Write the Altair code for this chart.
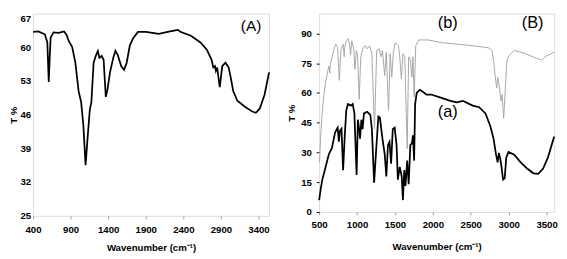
import altair as alt
import pandas as pd

# ---- Panel A spectrum ----
A_wn = [400, 470, 557, 590, 609, 622, 634, 673, 740, 813, 848, 878, 920, 963, 1006, 1040, 1070, 1099,
        1125, 1155, 1176, 1206, 1232, 1262, 1283, 1313, 1339, 1368, 1390, 1424, 1467, 1496, 1527,
        1573, 1611, 1646, 1688, 1732, 1796, 1902, 2072, 2222, 2328, 2360, 2500, 2628, 2712, 2776,
        2798, 2820, 2833, 2850, 2884, 2917, 2960, 3003, 3033, 3063, 3118, 3224, 3310, 3365, 3417,
        3481, 3540]
A_t = [63.2, 63.3, 62.7, 61.0, 52.8, 58.0, 62.0, 63.1, 63.0, 63.3, 62.5, 61.2, 60.1, 56.8, 50.9, 48.6, 43.7, 35.5,
       41.0, 47.0, 48.6, 56.8, 58.1, 59.2, 57.8, 58.2, 57.4, 49.7, 51.2, 54.8, 57.8, 59.3, 58.4,
       56.1, 55.3, 56.8, 60.4, 61.9, 63.2, 63.2, 62.8, 63.3, 63.6, 63.2, 62.4, 61.0, 59.5, 57.4,
       55.8, 56.1, 55.1, 55.8, 51.7, 56.1, 56.8, 55.8, 53.5, 50.9, 48.9, 47.6, 46.7, 46.4, 47.3,
       50.2, 54.8]

# ---- Panel B, spectrum (a) ----
Ba_wn = [500, 521, 542, 585, 627, 668, 711, 744, 760, 775, 795, 816, 838, 858, 880, 922, 943, 965, 994,
         1011, 1028, 1040, 1057, 1073, 1091, 1133, 1175, 1196, 1225, 1251, 1281, 1301, 1335, 1365, 1386,
         1408, 1428, 1449, 1471, 1496, 1521, 1538, 1563, 1589, 1605, 1623, 1639, 1661, 1681, 1703, 1724,
         1737, 1753, 1766, 1787, 1829, 1871, 1914, 1977, 2104, 2231, 2314, 2399, 2525, 2610, 2694, 2757,
         2800, 2833, 2854, 2871, 2889, 2905, 2926, 2947, 2968, 2997, 3073, 3158, 3243, 3327, 3390, 3454,
         3517, 3600]
Ba_t = [6.0, 11.6, 16.3, 22.7, 29.0, 32.2, 40.1, 42.5, 35.4, 41.0, 42.0, 21.0, 38.6, 51.2, 54.4, 53.6, 54.4, 49.7, 18.7,
        46.5, 41.7, 37.0, 46.5, 41.7, 49.7, 50.5, 48.9, 41.7, 14.8, 30.6, 48.1, 47.6, 37.0, 29.0, 17.9,
        33.8, 35.4, 24.3, 41.7, 42.5, 33.8, 16.3, 22.7, 17.9, 6.0, 21.1, 13.1, 25.9, 14.0, 33.8, 34.6,
        38.6, 25.9, 54.4, 60.0, 61.6, 60.5, 59.2, 59.2, 57.6, 56.0, 55.2, 56.0, 53.6, 52.8, 49.7, 43.3,
        37.0, 29.0, 25.0, 29.8, 26.7, 22.7, 16.3, 17.0, 27.4, 30.3, 28.9, 25.0, 21.9, 19.5, 19.2, 21.9,
        27.4, 38.0]

# ---- Panel B, spectrum (b) ----
Bb_wn = [505, 520, 540, 560, 585, 627, 640, 648, 690, 719, 744, 766, 787, 816, 830, 838, 858, 880, 901,
         914, 930, 956, 972, 990, 1006, 1028, 1049, 1082, 1112, 1133, 1167, 1196, 1230, 1259, 1294, 1314,
         1335, 1365, 1386, 1415, 1437, 1458, 1479, 1504, 1546, 1563, 1585, 1605, 1630, 1661, 1681, 1703,
         1724, 1737, 1753, 1774, 1816, 1934, 2104, 2525, 2737, 2778, 2800, 2821, 2842, 2854, 2875, 2896,
         2913, 2934, 2956, 2977, 3010, 3073, 3200, 3369, 3433, 3496, 3600]
Bb_t = [25.0, 38.0, 50.0, 58.0, 65.5, 73.5, 70.0, 74.3, 81.4, 84.6, 83.0, 66.3, 81.4, 84.6, 78.2, 83.0, 86.2, 87.4, 84.6,
        79.0, 86.2, 82.2, 71.9, 81.4, 79.8, 56.8, 78.2, 83.0, 83.8, 82.2, 83.8, 79.8, 42.0, 81.4, 82.2, 78.2,
        81.4, 68.7, 80.6, 51.2, 79.8, 67.9, 80.6, 85.4, 83.8, 78.2, 67.1, 79.8, 78.2, 32.0, 78.2, 76.6,
        67.9, 78.2, 58.0, 83.8, 86.7, 86.7, 85.4, 83.8, 82.7, 81.4, 76.6, 68.7, 62.4, 67.9, 63.9, 56.0,
        59.2, 47.3, 62.4, 76.6, 79.0, 81.4, 80.1, 77.4, 76.6, 78.6, 80.5]

A_xticks = [400, 900, 1400, 1900, 2400, 2900, 3400]
A_yticks = [25, 32, 39, 46, 53, 60, 67]
B_xticks = [500, 1000, 1500, 2000, 2500, 3000, 3500]
B_yticks = [0, 15, 30, 45, 60, 75, 90]

A_labels = ["(A)"]
A_lab_x = [3300]
A_lab_y = [64.4]
B_labels = ["(b)", "(B)", "(a)"]
B_lab_x = [2196, 3316, 2196]
B_lab_y = [95.0, 95.0, 50.5]

FONT = "Liberation Sans"
XTITLE = "Wavenumber (cm\u207b\u00b9)"

dfA = pd.DataFrame({"wn": A_wn, "t": A_t})
dfBa = pd.DataFrame({"wn": Ba_wn, "t": Ba_t})
dfBb = pd.DataFrame({"wn": Bb_wn, "t": Bb_t})
dfAl = pd.DataFrame({"wn": A_lab_x, "t": A_lab_y, "lab": A_labels})
dfBl = pd.DataFrame({"wn": B_lab_x, "t": B_lab_y, "lab": B_labels})

def xaxis(vals, lpad, tpad):
    return alt.Axis(values=vals, tickCount=len(vals) + 3, format="d", title=XTITLE, grid=False,
                    domain=False, tickSize=3, tickColor="#999999", labelPadding=lpad, labelFont=FONT,
                    labelFontSize=10, labelFontWeight="bold", labelColor="black", titleFont=FONT,
                    titleFontSize=10, titleFontWeight="bold", titleColor="black", titlePadding=tpad,
                    labelFlush=False, labelOverlap=False)

def yaxis(vals, **kw):
    return alt.Axis(values=vals, tickCount=len(vals) + 3, format="d", title="T %", grid=False,
                    domain=False, labelFont=FONT, labelFontSize=10, labelFontWeight="bold",
                    labelColor="black", titleFont=FONT, titleFontSize=10, titleFontWeight="bold",
                    titleColor="black", labelFlush=False, labelOverlap=False, **kw)

xA = alt.X("wn:Q", scale=alt.Scale(domain=[400, 3540], nice=False, zero=False), axis=xaxis(A_xticks, 6, 9))
yA = alt.Y("t:Q", scale=alt.Scale(domain=[25, 67], nice=False, zero=False),
           axis=yaxis(A_yticks, ticks=False, labelPadding=2.5, titleX=-15,
                      labelBaseline={"condition": {"test": "datum.value >= 67", "value": "top"},
                                     "value": "middle"}))

lineA = alt.Chart(dfA).mark_line(color="black", strokeWidth=1.8).encode(x=xA, y=yA)
textA = alt.Chart(dfAl).mark_text(font=FONT, fontSize=16, color="black").encode(
    x=alt.X("wn:Q"), y=alt.Y("t:Q"), text="lab:N")
panelA = alt.layer(lineA, textA).properties(width=245, height=210)

xB = alt.X("wn:Q", scale=alt.Scale(domain=[500, 3600], nice=False, zero=False), axis=xaxis(B_xticks, 5, 13))
yB = alt.Y("t:Q", scale=alt.Scale(domain=[0, 100], nice=False, zero=False),
           axis=yaxis(B_yticks, tickSize=3, tickColor="black", labelPadding=5, titleX=-24))

lineBb = alt.Chart(dfBb).mark_line(color="#a6a6a6", strokeWidth=1).encode(x=xB, y=yB)
lineBa = alt.Chart(dfBa).mark_line(color="black", strokeWidth=1.8).encode(x=xB, y=yB)
textB = alt.Chart(dfBl).mark_text(font=FONT, fontSize=17, color="black").encode(
    x=alt.X("wn:Q"), y=alt.Y("t:Q"), text="lab:N")
panelB = alt.layer(lineBb, lineBa, textB).properties(width=244, height=206)

chart = alt.hconcat(panelA, panelB, spacing=12).properties(
    padding={"left": 0, "top": 0, "right": 0, "bottom": 0}
).configure_view(stroke="black", strokeWidth=1.5).configure(background="white")

chart.save("out.html", embed_options={"renderer": "svg", "actions": False})
